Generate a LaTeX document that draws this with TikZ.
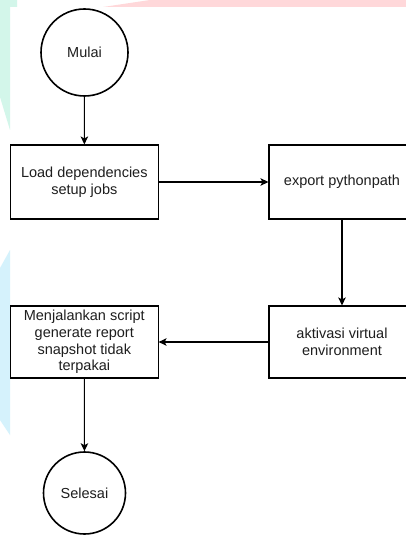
\documentclass[tikz,border=0pt]{standalone}
\usepackage{fontspec}
\setmainfont{Liberation Sans}
\usetikzlibrary{arrows.meta}
\definecolor{mint}{HTML}{D3F6EA}
\definecolor{sky}{HTML}{D5F2FC}
\definecolor{blush}{HTML}{FFD8DA}
\definecolor{ink}{HTML}{1E1E1E}
\tikzset{
  every node/.style={font=\fontsize{14.5}{16.8}\selectfont, text=ink, align=center},
  terminal/.style={circle, draw=black, line width=1.6pt, inner sep=0pt},
  process/.style={rectangle, draw=black, line width=1.1pt, minimum width=147.5pt, inner sep=0pt},
  flow/.style={draw=black, line width=1.1pt, -{Stealth[length=8pt,width=7.5pt,inset=2pt]}}
}
\begin{document}
\begin{tikzpicture}[x=1pt, y=-1pt]
  \useasboundingbox (0,0) rectangle (406,537);
  \clip (0,0) rectangle (406,537);
  \fill[white] (0,0) rectangle (406,537);
  % soft coloured bands along the edges
  \fill[mint] (0,0) -- (17,0) -- (17,7) -- (10,7) -- (10,130) -- (0,97) -- cycle;
  \fill[sky] (10,250) -- (10,435) -- (0,420) -- (0,268) -- cycle;
  \fill[blush] (103,7) -- (150,0) -- (406,0) -- (406,7) -- cycle;

  % start and end terminals
  \node[terminal, minimum size=87pt] (mulai) at (84.5,52.5) {Mulai};
  \node[terminal, minimum size=82pt] (selesai) at (84.5,493) {Selesai};

  % process steps
  \node[process, minimum height=74pt] (load) at (84.3,182) {Load dependencies\\setup jobs};
  \node[process, minimum height=74pt, minimum width=146pt] (export) at (342,182) {export pythonpath};
  \node[process, minimum height=72pt, minimum width=146pt] (aktivasi) at (342,342) {aktivasi virtual\\environment};
  \node[process, minimum height=72pt] (run) at (84.3,342) {Menjalankan script\\generate report\\snapshot tidak\\terpakai};

  % connectors
  \draw[flow] (mulai) -- (load);
  \draw[flow] (load) -- (export);
  \draw[flow] (export) -- (aktivasi);
  \draw[flow] (aktivasi) -- (run);
  \draw[flow] (run) -- (selesai);
\end{tikzpicture}
\end{document}
